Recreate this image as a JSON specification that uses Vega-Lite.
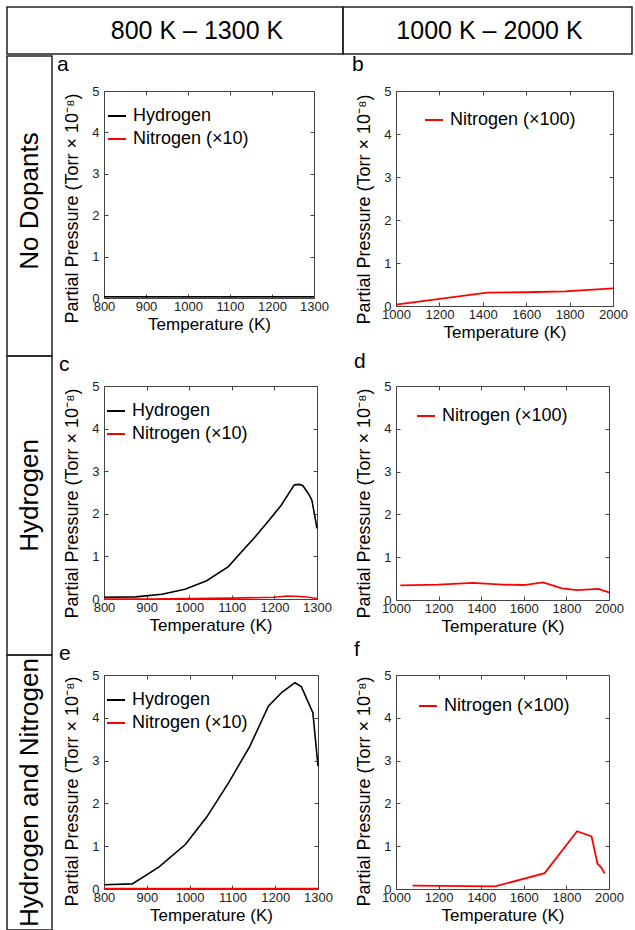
{
  "$schema": "https://vega.github.io/schema/vega-lite/v6.json",
  "padding": {"left": 6, "top": 6, "right": 0, "bottom": 0},
  "datasets": {
    "a": [
      {"T": 800, "P": 0.03, "s": "Nitrogen (×10)"},
      {"T": 1300, "P": 0.03, "s": "Nitrogen (×10)"},
      {"T": 800, "P": 0.03, "s": "Hydrogen"},
      {"T": 1300, "P": 0.03, "s": "Hydrogen"}
    ],
    "b": [
      {"T": 1000, "P": 0.03, "s": "Nitrogen (×100)"},
      {"T": 1420, "P": 0.31, "s": "Nitrogen (×100)"},
      {"T": 1600, "P": 0.32, "s": "Nitrogen (×100)"},
      {"T": 1780, "P": 0.34, "s": "Nitrogen (×100)"},
      {"T": 2000, "P": 0.41, "s": "Nitrogen (×100)"}
    ],
    "c": [
      {"T": 800, "P": 0.0, "s": "Nitrogen (×10)"},
      {"T": 900, "P": 0.0, "s": "Nitrogen (×10)"},
      {"T": 1000, "P": 0.01, "s": "Nitrogen (×10)"},
      {"T": 1100, "P": 0.02, "s": "Nitrogen (×10)"},
      {"T": 1200, "P": 0.04, "s": "Nitrogen (×10)"},
      {"T": 1230, "P": 0.07, "s": "Nitrogen (×10)"},
      {"T": 1260, "P": 0.06, "s": "Nitrogen (×10)"},
      {"T": 1280, "P": 0.04, "s": "Nitrogen (×10)"},
      {"T": 1300, "P": 0.01, "s": "Nitrogen (×10)"},
      {"T": 800, "P": 0.04, "s": "Hydrogen"},
      {"T": 874, "P": 0.05, "s": "Hydrogen"},
      {"T": 936, "P": 0.11, "s": "Hydrogen"},
      {"T": 990, "P": 0.23, "s": "Hydrogen"},
      {"T": 1041, "P": 0.43, "s": "Hydrogen"},
      {"T": 1092, "P": 0.76, "s": "Hydrogen"},
      {"T": 1123, "P": 1.11, "s": "Hydrogen"},
      {"T": 1154, "P": 1.45, "s": "Hydrogen"},
      {"T": 1185, "P": 1.82, "s": "Hydrogen"},
      {"T": 1216, "P": 2.2, "s": "Hydrogen"},
      {"T": 1239, "P": 2.56, "s": "Hydrogen"},
      {"T": 1247, "P": 2.68, "s": "Hydrogen"},
      {"T": 1259, "P": 2.69, "s": "Hydrogen"},
      {"T": 1267, "P": 2.66, "s": "Hydrogen"},
      {"T": 1282, "P": 2.44, "s": "Hydrogen"},
      {"T": 1288, "P": 2.32, "s": "Hydrogen"},
      {"T": 1300, "P": 1.66, "s": "Hydrogen"}
    ],
    "d": [
      {"T": 1020, "P": 0.34, "s": "Nitrogen (×100)"},
      {"T": 1200, "P": 0.36, "s": "Nitrogen (×100)"},
      {"T": 1360, "P": 0.4, "s": "Nitrogen (×100)"},
      {"T": 1500, "P": 0.36, "s": "Nitrogen (×100)"},
      {"T": 1600, "P": 0.35, "s": "Nitrogen (×100)"},
      {"T": 1690, "P": 0.41, "s": "Nitrogen (×100)"},
      {"T": 1780, "P": 0.27, "s": "Nitrogen (×100)"},
      {"T": 1850, "P": 0.23, "s": "Nitrogen (×100)"},
      {"T": 1950, "P": 0.26, "s": "Nitrogen (×100)"},
      {"T": 2000, "P": 0.18, "s": "Nitrogen (×100)"}
    ],
    "e": [
      {"T": 800, "P": 0.01, "s": "Nitrogen (×10)"},
      {"T": 1300, "P": 0.01, "s": "Nitrogen (×10)"},
      {"T": 800, "P": 0.1, "s": "Hydrogen"},
      {"T": 866, "P": 0.12, "s": "Hydrogen"},
      {"T": 928, "P": 0.51, "s": "Hydrogen"},
      {"T": 990, "P": 1.04, "s": "Hydrogen"},
      {"T": 1040, "P": 1.68, "s": "Hydrogen"},
      {"T": 1091, "P": 2.48, "s": "Hydrogen"},
      {"T": 1141, "P": 3.34, "s": "Hydrogen"},
      {"T": 1184, "P": 4.27, "s": "Hydrogen"},
      {"T": 1215, "P": 4.59, "s": "Hydrogen"},
      {"T": 1246, "P": 4.82, "s": "Hydrogen"},
      {"T": 1261, "P": 4.73, "s": "Hydrogen"},
      {"T": 1288, "P": 4.12, "s": "Hydrogen"},
      {"T": 1300, "P": 2.87, "s": "Hydrogen"}
    ],
    "f": [
      {"T": 1078, "P": 0.08, "s": "Nitrogen (×100)"},
      {"T": 1465, "P": 0.06, "s": "Nitrogen (×100)"},
      {"T": 1698, "P": 0.37, "s": "Nitrogen (×100)"},
      {"T": 1850, "P": 1.35, "s": "Nitrogen (×100)"},
      {"T": 1918, "P": 1.23, "s": "Nitrogen (×100)"},
      {"T": 1946, "P": 0.59, "s": "Nitrogen (×100)"},
      {"T": 1964, "P": 0.5, "s": "Nitrogen (×100)"},
      {"T": 1980, "P": 0.36, "s": "Nitrogen (×100)"}
    ],
    "none": []
  },
  "spacing": -2,
  "vconcat": [
    {
      "spacing": 0,
      "bounds": "flush",
      "hconcat": [
        {"width": 336, "height": 47, "data": {"values": [{"t": "800 K – 1300 K"}]}, "view": {"stroke": "#222", "strokeWidth": 1.5}, "mark": {"type": "text", "fontSize": 25, "dx": 22, "color": "black"}, "encoding": {"text": {"field": "t"}}},
        {"width": 289, "height": 47, "data": {"values": [{"t": "1000 K – 2000 K"}]}, "view": {"stroke": "#222", "strokeWidth": 1.5}, "mark": {"type": "text", "fontSize": 25, "dx": 2, "color": "black"}, "encoding": {"text": {"field": "t"}}}
      ]
    },
    {
      "spacing": -1,
      "hconcat": [
        {
          "spacing": 0,
          "bounds": "flush",
          "vconcat": [
            {"width": 45, "height": 300, "data": {"values": [{"t": "No Dopants"}]}, "view": {"stroke": "#222", "strokeWidth": 1.5}, "mark": {"type": "text", "fontSize": 26, "angle": 270, "color": "black", "dx": 5}, "encoding": {"text": {"field": "t"}}},
            {"width": 45, "height": 299, "data": {"values": [{"t": "Hydrogen"}]}, "view": {"stroke": "#222", "strokeWidth": 1.5}, "mark": {"type": "text", "fontSize": 26, "angle": 270, "color": "black", "dx": 10}, "encoding": {"text": {"field": "t"}}},
            {"width": 45, "height": 275, "data": {"values": [{"t": "Hydrogen and Nitrogen"}]}, "view": {"stroke": "#222", "strokeWidth": 1.5}, "mark": {"type": "text", "fontSize": 26, "angle": 270, "color": "black"}, "encoding": {"text": {"field": "t"}}}
          ]
        },
        {
          "columns": 4,
          "spacing": 0,
          "bounds": "flush",
          "concat": [
            {"width": 51, "height": 35, "data": {"name": "none"}, "mark": "point"},
            {"width": 0, "height": 0, "data": {"name": "none"}, "mark": "point"},
            {"width": 78, "height": 0, "data": {"name": "none"}, "mark": "point"},
            {"width": 0, "height": 0, "data": {"name": "none"}, "mark": "point"},

            {"width": 0, "height": 0, "data": {"name": "none"}, "mark": "point"},
            {
              "width": 210, "height": 207, "data": {"name": "a"},
              "title": {"text": "a", "dx": -47, "offset": 10},
              "view": {"stroke": "#444"},
              "layer": [
                {"mark": {"type": "line", "strokeWidth": 1.6},
                 "encoding": {
                   "x": {"field": "T", "type": "quantitative", "scale": {"domain": [800, 1300], "nice": false, "zero": false}, "axis": {"values": [800, 900, 1000, 1100, 1200, 1300], "format": "d", "title": "Temperature (K)"}},
                   "y": {"field": "P", "type": "quantitative", "scale": {"domain": [0, 5], "nice": false}, "axis": {"values": [0, 1, 2, 3, 4, 5], "title": "Partial Pressure (Torr × 10⁻⁸)", "titleY": 117}},
                   "color": {"field": "s", "type": "nominal", "scale": {"domain": ["Hydrogen", "Nitrogen (×10)"], "range": ["#000000", "#ff0000"]}, "legend": {"orient": "none", "legendX": 3, "legendY": 15, "title": null}}
                 }},
                {"mark": {"type": "line", "opacity": 0},
                 "encoding": {
                   "x": {"field": "T", "type": "quantitative", "axis": {"orient": "top", "values": [800, 900, 1000, 1100, 1200, 1300], "labels": false, "title": null}},
                   "y": {"field": "P", "type": "quantitative", "axis": {"orient": "right", "values": [0, 1, 2, 3, 4, 5], "labels": false, "title": null}}
                 }}
              ],
              "resolve": {"axis": {"x": "independent", "y": "independent"}}
            },
            {"width": 0, "height": 0, "data": {"name": "none"}, "mark": "point"},
            {
              "width": 217, "height": 215, "data": {"name": "b"},
              "title": {"text": "b", "dx": -44, "offset": 10},
              "view": {"stroke": "#444"},
              "layer": [
                {"mark": {"type": "line", "strokeWidth": 1.8},
                 "encoding": {
                   "x": {"field": "T", "type": "quantitative", "scale": {"domain": [1000, 2000], "nice": false, "zero": false}, "axis": {"values": [1000, 1200, 1400, 1600, 1800, 2000], "format": "d", "title": "Temperature (K)"}},
                   "y": {"field": "P", "type": "quantitative", "scale": {"domain": [0, 5], "nice": false}, "axis": {"values": [0, 1, 2, 3, 4, 5], "title": "Partial Pressure (Torr × 10⁻⁸)", "titleY": 118}},
                   "color": {"field": "s", "type": "nominal", "scale": {"domain": ["Nitrogen (×100)"], "range": ["#ff0000"]}, "legend": {"orient": "none", "legendX": 28, "legendY": 19, "title": null}}
                 }},
                {"mark": {"type": "line", "opacity": 0},
                 "encoding": {
                   "x": {"field": "T", "type": "quantitative", "axis": {"orient": "top", "values": [1000, 1200, 1400, 1600, 1800, 2000], "labels": false, "title": null}},
                   "y": {"field": "P", "type": "quantitative", "axis": {"orient": "right", "values": [0, 1, 2, 3, 4, 5], "labels": false, "title": null}}
                 }}
              ],
              "resolve": {"axis": {"x": "independent", "y": "independent"}}
            },

            {"width": 0, "height": 80, "data": {"name": "none"}, "mark": "point"},
            {"width": 0, "height": 0, "data": {"name": "none"}, "mark": "point"},
            {"width": 0, "height": 0, "data": {"name": "none"}, "mark": "point"},
            {"width": 0, "height": 0, "data": {"name": "none"}, "mark": "point"},

            {"width": 0, "height": 0, "data": {"name": "none"}, "mark": "point"},
            {
              "width": 213, "height": 213, "data": {"name": "c"},
              "title": {"text": "c", "dx": -45, "offset": 5},
              "view": {"stroke": "#444"},
              "layer": [
                {"mark": {"type": "line", "strokeWidth": 1.6},
                 "encoding": {
                   "x": {"field": "T", "type": "quantitative", "scale": {"domain": [800, 1300], "nice": false, "zero": false}, "axis": {"values": [800, 900, 1000, 1100, 1200, 1300], "format": "d", "title": "Temperature (K)"}},
                   "y": {"field": "P", "type": "quantitative", "scale": {"domain": [0, 5], "nice": false}, "axis": {"values": [0, 1, 2, 3, 4, 5], "title": "Partial Pressure (Torr × 10⁻⁸)", "titleY": 117}},
                   "color": {"field": "s", "type": "nominal", "scale": {"domain": ["Hydrogen", "Nitrogen (×10)"], "range": ["#000000", "#ff0000"]}, "legend": {"orient": "none", "legendX": 2, "legendY": 15, "title": null}}
                 }},
                {"mark": {"type": "line", "opacity": 0},
                 "encoding": {
                   "x": {"field": "T", "type": "quantitative", "axis": {"orient": "top", "values": [800, 900, 1000, 1100, 1200, 1300], "labels": false, "title": null}},
                   "y": {"field": "P", "type": "quantitative", "axis": {"orient": "right", "values": [0, 1, 2, 3, 4, 5], "labels": false, "title": null}}
                 }}
              ],
              "resolve": {"axis": {"x": "independent", "y": "independent"}}
            },
            {"width": 0, "height": 0, "data": {"name": "none"}, "mark": "point"},
            {
              "width": 213, "height": 214, "data": {"name": "d"},
              "title": {"text": "d", "dx": -42, "offset": 8},
              "view": {"stroke": "#444"},
              "layer": [
                {"mark": {"type": "line", "strokeWidth": 1.8},
                 "encoding": {
                   "x": {"field": "T", "type": "quantitative", "scale": {"domain": [1000, 2000], "nice": false, "zero": false}, "axis": {"values": [1000, 1200, 1400, 1600, 1800, 2000], "format": "d", "title": "Temperature (K)"}},
                   "y": {"field": "P", "type": "quantitative", "scale": {"domain": [0, 5], "nice": false}, "axis": {"values": [0, 1, 2, 3, 4, 5], "title": "Partial Pressure (Torr × 10⁻⁸)", "titleY": 117}},
                   "color": {"field": "s", "type": "nominal", "scale": {"domain": ["Nitrogen (×100)"], "range": ["#ff0000"]}, "legend": {"orient": "none", "legendX": 20, "legendY": 20, "title": null}}
                 }},
                {"mark": {"type": "line", "opacity": 0},
                 "encoding": {
                   "x": {"field": "T", "type": "quantitative", "axis": {"orient": "top", "values": [1000, 1200, 1400, 1600, 1800, 2000], "labels": false, "title": null}},
                   "y": {"field": "P", "type": "quantitative", "axis": {"orient": "right", "values": [0, 1, 2, 3, 4, 5], "labels": false, "title": null}}
                 }}
              ],
              "resolve": {"axis": {"x": "independent", "y": "independent"}}
            },

            {"width": 0, "height": 75, "data": {"name": "none"}, "mark": "point"},
            {"width": 0, "height": 0, "data": {"name": "none"}, "mark": "point"},
            {"width": 0, "height": 0, "data": {"name": "none"}, "mark": "point"},
            {"width": 0, "height": 0, "data": {"name": "none"}, "mark": "point"},

            {"width": 0, "height": 0, "data": {"name": "none"}, "mark": "point"},
            {
              "width": 214, "height": 214, "data": {"name": "e"},
              "title": {"text": "e", "dx": -45, "offset": 5},
              "view": {"stroke": "#444"},
              "layer": [
                {"mark": {"type": "line", "strokeWidth": 1.6},
                 "encoding": {
                   "x": {"field": "T", "type": "quantitative", "scale": {"domain": [800, 1300], "nice": false, "zero": false}, "axis": {"values": [800, 900, 1000, 1100, 1200, 1300], "format": "d", "title": "Temperature (K)"}},
                   "y": {"field": "P", "type": "quantitative", "scale": {"domain": [0, 5], "nice": false}, "axis": {"values": [0, 1, 2, 3, 4, 5], "title": "Partial Pressure (Torr × 10⁻⁸)", "titleY": 116}},
                   "color": {"field": "s", "type": "nominal", "scale": {"domain": ["Hydrogen", "Nitrogen (×10)"], "range": ["#000000", "#ff0000"]}, "legend": {"orient": "none", "legendX": 2, "legendY": 15, "title": null}}
                 }},
                {"mark": {"type": "line", "opacity": 0},
                 "encoding": {
                   "x": {"field": "T", "type": "quantitative", "axis": {"orient": "top", "values": [800, 900, 1000, 1100, 1200, 1300], "labels": false, "title": null}},
                   "y": {"field": "P", "type": "quantitative", "axis": {"orient": "right", "values": [0, 1, 2, 3, 4, 5], "labels": false, "title": null}}
                 }}
              ],
              "resolve": {"axis": {"x": "independent", "y": "independent"}}
            },
            {"width": 0, "height": 0, "data": {"name": "none"}, "mark": "point"},
            {
              "width": 213, "height": 214, "data": {"name": "f"},
              "title": {"text": "f", "dx": -42, "offset": 9},
              "view": {"stroke": "#444"},
              "layer": [
                {"mark": {"type": "line", "strokeWidth": 1.8},
                 "encoding": {
                   "x": {"field": "T", "type": "quantitative", "scale": {"domain": [1000, 2000], "nice": false, "zero": false}, "axis": {"values": [1000, 1200, 1400, 1600, 1800, 2000], "format": "d", "title": "Temperature (K)"}},
                   "y": {"field": "P", "type": "quantitative", "scale": {"domain": [0, 5], "nice": false}, "axis": {"values": [0, 1, 2, 3, 4, 5], "title": "Partial Pressure (Torr × 10⁻⁸)", "titleY": 116}},
                   "color": {"field": "s", "type": "nominal", "scale": {"domain": ["Nitrogen (×100)"], "range": ["#ff0000"]}, "legend": {"orient": "none", "legendX": 22, "legendY": 21, "title": null}}
                 }},
                {"mark": {"type": "line", "opacity": 0},
                 "encoding": {
                   "x": {"field": "T", "type": "quantitative", "axis": {"orient": "top", "values": [1000, 1200, 1400, 1600, 1800, 2000], "labels": false, "title": null}},
                   "y": {"field": "P", "type": "quantitative", "axis": {"orient": "right", "values": [0, 1, 2, 3, 4, 5], "labels": false, "title": null}}
                 }}
              ],
              "resolve": {"axis": {"x": "independent", "y": "independent"}}
            }
          ],
          "resolve": {
            "scale": {"x": "independent", "y": "independent", "color": "independent"},
            "legend": {"color": "independent"}
          }
        }
      ],
      "resolve": {
        "scale": {"x": "independent", "y": "independent", "color": "independent"},
        "legend": {"color": "independent"}
      }
    }
  ],
  "resolve": {
    "scale": {"x": "independent", "y": "independent", "color": "independent"},
    "legend": {"color": "independent"}
  },
  "config": {
    "font": "Liberation Sans",
    "view": {"stroke": null},
    "text": {"font": "Liberation Sans"},
    "title": {"anchor": "start", "frame": "group", "fontSize": 21, "fontWeight": "normal", "font": "Liberation Sans", "color": "black", "baseline": "alphabetic"},
    "axis": {
      "domain": false, "grid": false,
      "tickSize": -4, "tickColor": "#444", "tickWidth": 1,
      "labelFont": "Liberation Sans", "labelFontSize": 13, "labelColor": "#222",
      "labelPadding": 6, "labelFlush": false, "labelOverlap": false,
      "titleFont": "Liberation Sans", "titleFontSize": 17, "titleFontWeight": "normal", "titleColor": "black", "titlePadding": 3
    },
    "axisY": {"titleFontSize": 18, "titlePadding": 10, "labelPadding": 9},
    "legend": {
      "symbolType": "stroke", "symbolSize": 324, "symbolStrokeWidth": 2,
      "labelFont": "Liberation Sans", "labelFontSize": 18, "labelColor": "black",
      "labelOffset": 6, "rowPadding": 4, "padding": 0
    }
  }
}
